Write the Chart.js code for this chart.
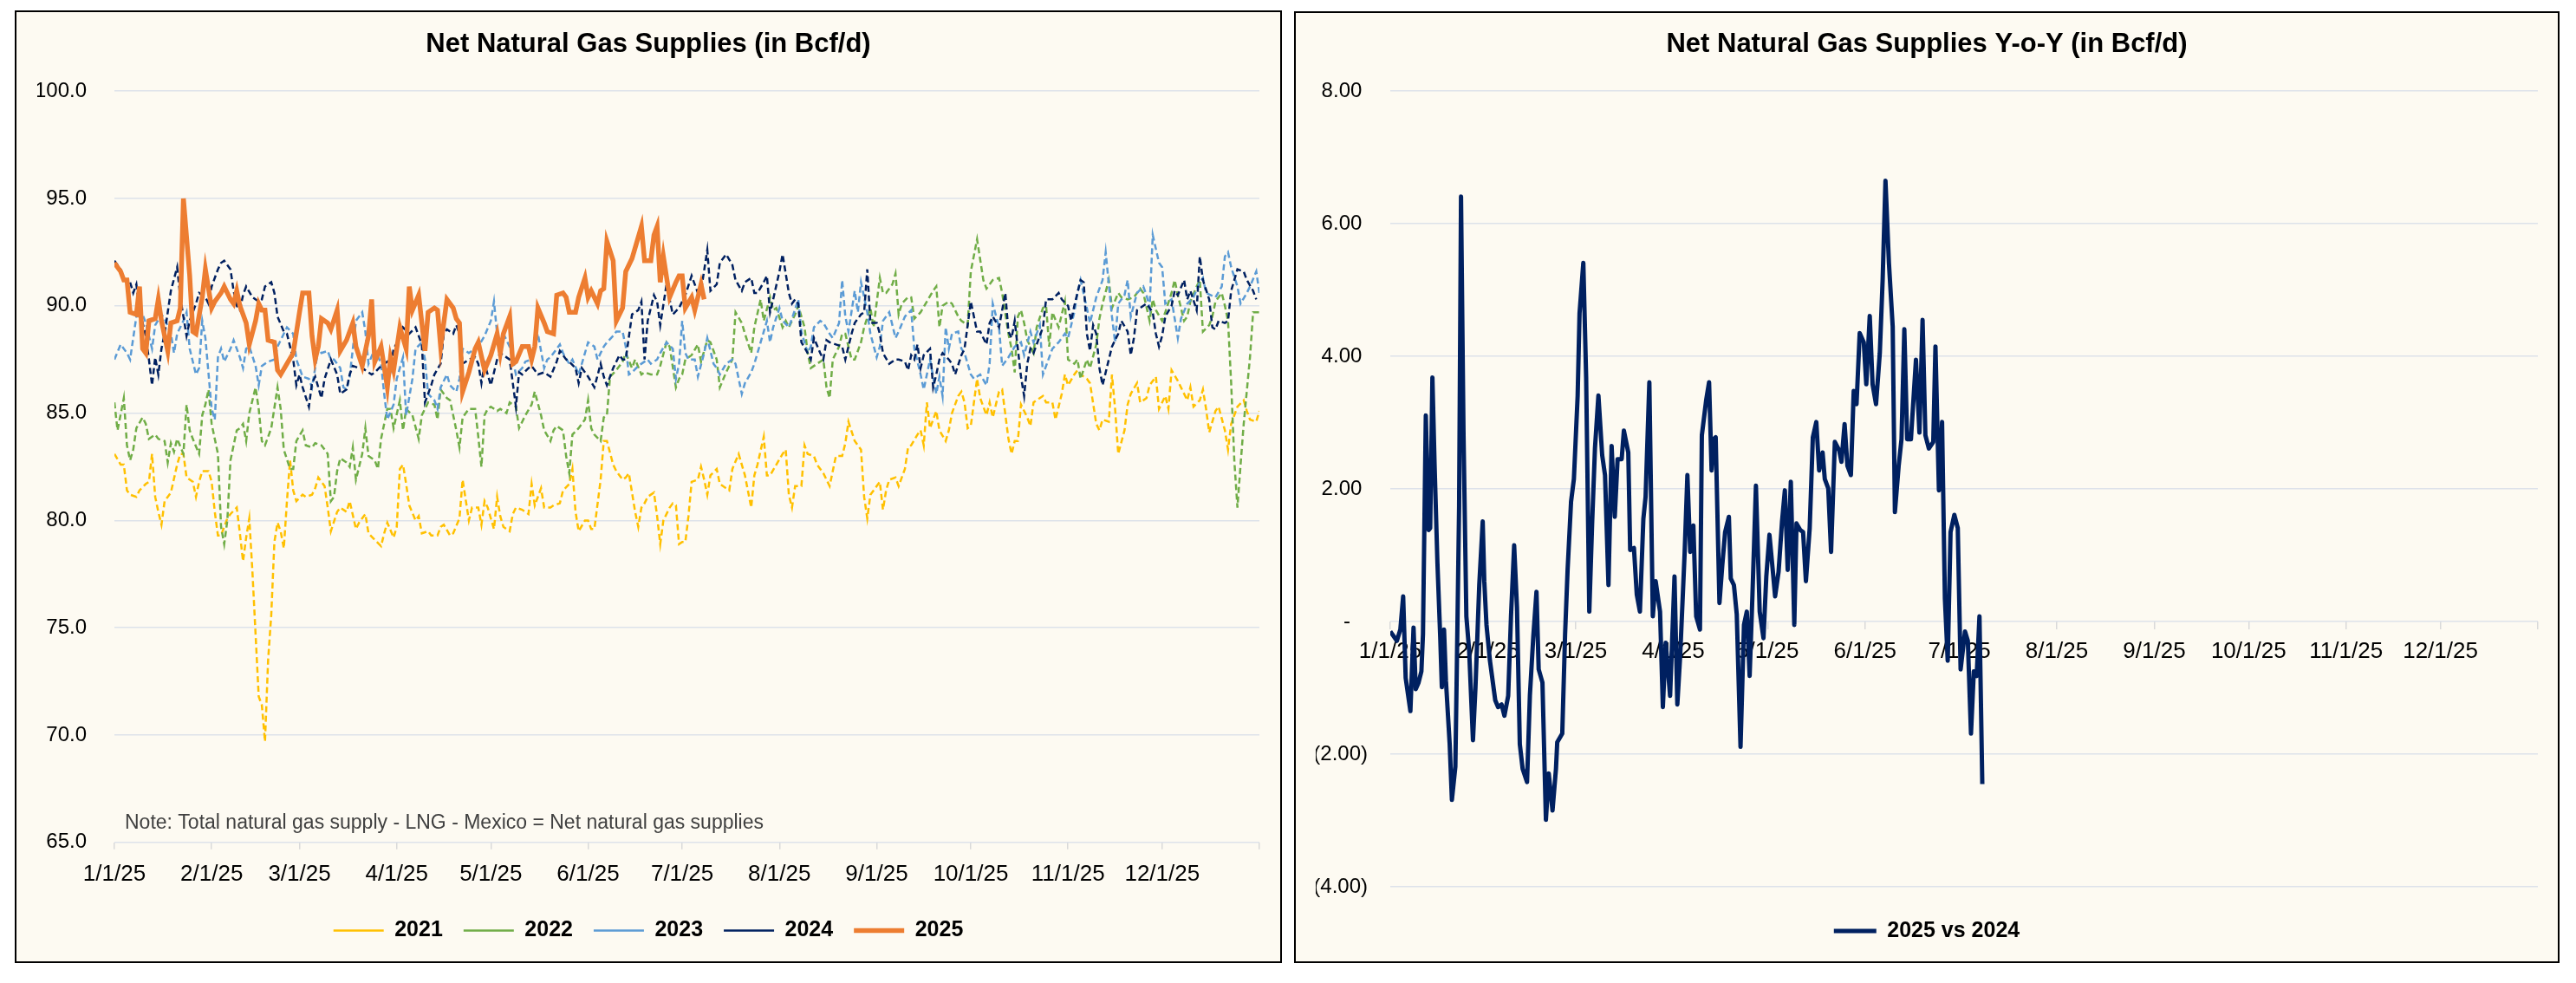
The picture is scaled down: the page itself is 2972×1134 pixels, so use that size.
<!DOCTYPE html>
<html lang="en">
<head>
  <meta charset="UTF-8">
  <title>Net Natural Gas Supplies</title>
  <script src="https://cdn.jsdelivr.net/npm/chart.js"></script>
  <style>
    html, body { margin: 0; padding: 0; background: #fff; }
    body { width: 2972px; height: 1134px; position: relative; overflow: hidden; }
    .box { position: absolute; box-sizing: border-box; border: 2px solid #000; background: #fdfaf2; }
    .box canvas { display: block; }
  </style>
</head>
<body>
  <div class="box" style="left:17px; top:12px; width:1462px; height:1099px;">
    <canvas id="supplyChart"></canvas>
  </div>
  <div class="box" style="left:1493px; top:13px; width:1460px; height:1098px;">
    <canvas id="yoyChart"></canvas>
  </div>

  <script>
    // x axis: days since 1/1/25, labelled at the first of each month
    const monthLabels = ['1/1/25', '2/1/25', '3/1/25', '4/1/25', '5/1/25', '6/1/25', '7/1/25', '8/1/25', '9/1/25', '10/1/25', '11/1/25', '12/1/25'];
    const monthDays = [0, 31, 59, 90, 120, 151, 181, 212, 243, 273, 304, 334, 365];

    const supplyTicks = [65, 70, 75, 80, 85, 90, 95, 100];
    const yoyTicks = [-4, -2, 0, 2, 4, 6, 8];
    const yoyTickText = ['(4.00)', '(2.00)', '-   ', '2.00 ', '4.00 ', '6.00 ', '8.00 '];

    const seriesNames = ['2021', '2022', '2023', '2024', '2025'];
    const yoyName = '2025 vs 2024';
    const note = 'Note: Total natural gas supply - LNG - Mexico = Net natural gas supplies';

    // net supplies by day of year (Bcf/d)
    const days2021 = [0,2,3,4,5,7,8,10,11,12,13,14,15,16,17,18,20,21,22,23,25,26,27,28,30,31,32,33,34,36,37,39,40,41,42,43,44,45,46,47,48,49,50,51,52,53,54,55,56,57,58,60,61,63,64,65,67,68,69,71,72,74,75,77,78,80,81,83,85,86,87,89,90,91,92,
      93,94,96,97,98,100,101,103,104,105,107,108,110,111,113,114,116,117,118,119,121,122,123,124,126,127,128,130,132,133,134,136,137,139,140,142,143,145,146,147,148,150,151,152,153,155,156,157,159,160,162,163,164,166,167,168,169,170,172,173,174,175,177,178,179,180,181,
      182,183,184,186,187,188,189,190,192,193,194,196,197,199,201,203,204,205,207,208,209,211,213,214,215,216,217,219,220,221,223,224,226,227,228,230,232,233,234,236,238,239,240,241,243,244,245,246,247,249,250,252,253,254,256,257,258,259,260,262,263,265,266,267,269,270,271,272,
      273,275,276,278,279,280,282,283,285,286,287,288,289,291,292,293,295,296,297,299,300,302,303,304,306,307,308,310,311,313,314,315,317,318,319,320,322,323,324,326,327,329,330,332,333,335,336,337,339,340,342,343,344,346,347,348,349,351,352,354,355,356,358,360,361,362,364,365];
    const vals2021 = [83.1,82.6,82.6,81.4,81.2,81.1,81.4,81.7,81.8,83.1,81.1,80.4,79.8,80.9,81.1,81.3,82.6,83.1,83.1,82.0,81.8,81.1,81.8,82.3,82.3,81.8,80.4,79.3,79.3,80.1,80.3,80.6,79.4,78.1,79.2,80.1,77.6,74.7,71.8,71.4,69.7,73.5,75.6,79.0,79.9,79.5,78.7,80.9,82.8,81.4,80.9,81.2,81.1,81.2,81.5,82.0,81.6,80.6,79.5,80.4,80.6,80.4,80.9,79.6,79.9,80.3,79.4,79.1,78.8,79.4,79.9,79.2,79.7,82.4,82.6,
      81.7,80.7,80.0,80.2,79.4,79.5,79.3,79.3,79.7,79.8,79.3,79.4,80.1,81.9,80.0,80.6,80.6,79.8,80.9,80.6,79.6,81.1,80.2,79.7,79.5,80.3,80.6,80.5,80.3,81.7,80.7,81.5,80.6,80.6,80.7,80.8,81.4,81.7,82.4,80.4,79.5,80.0,80.0,79.6,79.6,81.9,83.7,83.7,82.6,82.3,81.9,82.0,82.2,80.4,79.7,80.6,80.8,81.1,81.3,80.2,78.9,80.0,80.6,80.8,80.7,78.9,79.0,
      79.0,80.2,81.8,81.9,82.5,81.9,81.2,82.1,82.4,81.7,81.6,81.4,82.4,83.1,82.1,80.6,82.1,82.6,83.9,82.1,82.1,82.6,83.1,83.3,81.2,80.6,81.6,81.6,83.5,83.1,83.0,82.6,82.2,81.9,81.6,83.0,83.0,83.6,84.6,83.7,83.3,81.1,80.1,81.2,81.6,81.8,80.5,81.4,81.9,82.0,81.6,82.4,83.4,83.5,84.0,84.2,83.5,85.5,84.3,85.1,84.2,83.7,84.2,85.0,85.8,86.0,85.5,84.3,
      84.4,86.6,85.7,84.9,85.5,84.8,86.0,86.1,83.8,83.1,83.7,83.7,85.4,84.8,84.4,85.5,85.7,85.8,85.5,85.5,84.7,85.9,86.8,86.3,86.8,87.0,86.8,86.6,86.4,84.5,84.2,84.7,84.6,86.8,85.2,83.1,84.2,85.4,85.9,86.4,85.5,85.7,86.3,86.7,85.2,85.8,85.2,87.0,86.5,86.2,85.6,86.2,85.3,85.6,86.1,85.2,84.1,85.1,85.3,84.2,83.3,84.5,85.3,85.6,85.1,84.7,84.6,85.1];

    const days2022 = [0,1,3,4,5,6,7,9,10,11,13,14,16,17,18,19,20,22,23,24,25,27,28,29,30,31,33,34,35,36,37,39,40,41,42,43,45,46,47,48,50,52,53,54,56,57,58,60,61,63,64,66,68,69,70,71,72,74,75,76,77,79,80,81,83,84,85,87,88,89,91,92,
      93,95,97,98,100,102,103,104,106,107,109,110,111,113,115,116,117,118,119,120,122,123,125,126,128,129,131,133,134,136,137,139,140,141,143,144,145,146,148,150,151,152,153,155,156,157,158,160,162,163,165,166,168,169,171,173,174,176,177,179,180,181,
      182,184,186,187,189,190,192,193,195,197,198,200,201,203,204,206,207,209,210,211,213,214,215,217,218,220,221,222,224,226,227,228,229,231,232,233,235,236,238,239,241,242,244,245,246,248,249,250,251,253,254,255,257,259,261,262,263,264,266,267,269,270,272,
      273,275,277,278,280,282,283,285,286,287,288,289,290,291,293,294,296,297,298,299,301,303,304,306,307,308,310,311,313,314,315,317,318,320,321,323,325,327,328,330,331,332,334,335,337,338,339,341,342,343,345,346,347,349,350,351,353,354,355,356,357,358,359,360,362,363,365];
    const vals2022 = [85.5,84.2,85.7,83.5,82.8,83.3,84.3,84.8,84.5,83.8,84.0,83.8,83.7,82.7,83.6,83.2,83.8,83.1,85.4,84.2,83.8,83.1,84.9,85.4,86.1,84.5,83.1,79.7,78.9,80.0,82.8,84.2,84.3,84.5,83.7,85.0,86.2,85.2,83.7,83.5,84.3,86.2,85.2,83.3,82.4,82.4,83.7,84.2,83.5,83.4,83.6,83.5,83.1,80.9,81.1,82.3,82.9,82.7,82.5,83.4,81.9,83.1,84.3,83.0,82.8,82.4,83.8,85.2,85.2,84.3,85.6,84.2,
      85.2,84.9,83.8,84.9,85.5,85.4,84.7,86.1,85.7,85.6,84.2,83.4,84.8,85.2,85.2,83.9,82.5,84.9,85.2,85.3,85.1,85.2,85.0,85.5,85.3,84.3,84.9,85.4,86.0,84.9,84.2,83.7,84.2,84.4,84.2,83.0,82.2,84.0,84.3,84.7,85.6,84.3,84.0,83.7,84.8,84.9,86.7,87.0,87.4,87.8,87.1,87.5,86.8,86.9,86.8,86.8,87.2,88.3,88.1,86.2,86.6,86.8,
      87.5,87.7,88.2,87.4,88.4,88.3,87.5,86.2,86.9,87.5,89.7,89.2,88.7,87.8,89.0,90.3,89.3,90.4,89.8,89.9,89.0,89.3,89.0,89.6,90.0,89.0,87.8,87.1,87.3,87.5,86.2,85.7,87.5,88.1,88.7,88.7,87.5,87.5,88.3,89.0,89.9,89.0,91.3,90.6,90.6,91.0,91.5,89.6,90.1,90.4,90.4,89.4,89.7,90.2,90.7,90.9,89.0,90.0,90.2,90.1,89.5,89.3,89.1,
      91.6,93.1,91.2,90.8,91.2,91.3,90.6,88.7,88.0,86.9,89.5,89.8,89.2,88.4,87.8,89.0,89.9,90.0,88.1,89.7,89.0,90.2,87.5,87.3,87.5,86.6,87.5,87.1,88.2,89.4,90.1,91.2,89.9,90.6,90.4,90.3,90.4,90.8,90.6,89.3,90.3,89.8,89.3,89.7,90.6,91.2,90.5,89.3,89.5,90.2,90.9,91.2,88.8,89.1,89.5,90.2,90.6,90.0,89.3,86.4,82.8,80.6,82.6,84.5,87.6,89.7,89.7];

    const days2023 = [0,2,4,5,6,7,9,10,12,13,15,16,18,19,20,22,23,24,26,27,28,29,31,32,33,34,35,37,38,40,41,42,43,45,46,47,49,51,52,54,55,57,58,60,62,63,65,66,68,69,70,72,73,74,75,77,79,80,81,83,85,86,87,89,90,92,
      93,95,96,98,99,100,102,103,104,106,107,109,110,111,113,115,116,118,120,121,122,123,124,126,127,128,130,131,133,134,135,137,138,139,140,142,143,145,146,148,150,151,153,154,156,157,159,160,162,163,164,165,167,168,170,171,173,174,176,178,179,180,181,
      182,183,185,186,188,189,191,192,193,195,197,198,200,201,203,204,206,208,209,210,212,213,215,216,218,219,221,222,223,225,226,228,229,231,232,233,234,236,237,238,240,241,243,244,245,247,249,250,252,254,255,257,258,259,260,261,262,263,264,265,266,267,269,270,271,
      273,274,276,278,279,280,282,283,285,287,289,290,292,293,295,296,298,299,301,303,304,306,307,308,310,311,313,315,316,318,319,320,322,323,324,326,328,329,330,331,333,334,335,337,339,340,342,344,346,347,348,351,353,354,355,356,358,359,361,362,364,365];
    const vals2023 = [87.5,88.2,87.8,87.5,88.5,89.5,89.6,89.2,88.0,89.1,89.6,89.4,88.7,87.8,88.7,89.3,89.7,88.0,86.8,87.1,89.3,88.5,85.2,84.7,87.6,88.0,87.4,88.0,88.4,87.6,87.1,88.0,88.1,87.2,86.3,87.2,87.4,87.5,88.1,88.7,89.0,88.7,87.5,86.7,86.6,86.2,88.0,87.8,87.9,87.5,87.5,87.1,86.2,86.1,86.7,89.3,89.7,88.8,87.3,88.0,87.3,85.9,84.7,85.4,86.6,87.6,
      84.9,86.6,88.0,88.3,87.5,85.9,85.6,85.2,86.2,86.8,86.3,86.0,86.6,88.0,87.8,88.0,88.1,88.6,89.3,90.2,88.7,87.8,88.7,88.1,87.5,86.8,87.1,87.4,87.5,88.0,88.7,87.1,87.5,87.6,87.8,88.2,87.8,87.3,87.5,86.8,87.8,88.3,88.1,87.5,88.1,88.3,88.6,88.8,88.8,88.1,86.8,86.9,87.2,87.3,87.5,87.3,87.5,87.8,88.3,88.0,86.6,87.3,89.3,
      87.8,87.5,87.5,86.7,87.8,88.5,87.3,87.1,86.8,87.3,87.5,87.3,85.9,86.4,86.9,87.3,88.3,89.3,88.3,89.0,89.9,89.3,89.0,89.4,90.3,88.8,87.8,88.1,89.0,89.3,89.2,88.7,88.5,89.2,91.2,89.5,88.8,90.7,89.7,91.1,89.7,88.7,87.6,88.1,89.3,89.7,88.5,88.8,89.5,89.8,88.0,86.8,86.1,86.8,87.5,86.7,85.9,86.7,85.8,89.0,88.0,88.7,88.8,88.0,87.8,
      86.8,86.6,86.8,86.3,87.3,90.1,89.0,87.2,87.6,88.1,88.3,87.7,88.8,88.3,89.1,86.8,87.6,88.0,88.3,88.7,88.5,89.7,90.6,91.2,89.9,89.2,90.4,91.2,92.5,89.5,88.3,90.1,90.5,91.2,89.5,90.6,90.9,90.5,89.9,93.3,92.0,91.8,90.1,90.3,88.5,89.4,90.1,90.4,91.1,91.3,90.6,90.4,90.9,92.3,92.5,91.8,90.9,90.1,90.6,90.9,91.6,90.6];

    const days2024 = [0,2,3,5,6,7,8,10,11,12,13,14,15,16,17,18,20,21,22,23,24,25,26,27,29,30,31,33,34,35,37,38,39,40,41,42,44,46,47,48,50,51,52,54,55,57,58,59,60,62,63,64,66,67,69,71,72,74,75,76,78,79,81,82,83,85,87,88,89,91,92,
      94,96,98,99,101,102,104,105,106,108,109,110,111,113,115,116,117,118,120,122,123,124,126,128,129,130,132,133,135,137,139,141,142,144,145,147,148,149,151,153,155,156,157,159,161,162,163,165,167,168,169,170,172,173,174,176,178,180,
      182,184,186,187,189,190,192,193,195,197,198,200,201,203,204,205,207,208,209,210,212,213,215,216,217,218,219,221,222,223,225,226,227,228,230,232,233,235,236,238,239,240,241,243,244,245,247,249,250,252,253,254,255,256,257,258,260,261,262,263,264,266,267,268,270,271,
      273,275,276,278,279,280,282,284,285,286,287,289,290,291,292,293,295,296,297,299,301,302,304,305,306,308,309,310,311,312,313,314,315,317,318,320,321,323,324,325,326,328,329,331,332,333,334,335,337,338,339,341,342,343,345,346,347,349,350,351,352,354,355,356,358,360,361,363,364];
    const vals2024 = [92.1,91.7,91.2,91.1,90.6,91.0,89.8,88.6,87.5,86.3,87.6,86.8,88.0,88.7,89.7,90.7,91.8,90.4,89.5,88.6,89.3,89.7,90.1,90.6,90.4,90.1,90.9,91.7,92.0,92.1,91.7,90.7,90.0,89.8,90.5,90.9,90.4,90.2,90.3,90.9,91.1,90.6,89.5,88.8,88.7,87.5,86.3,86.8,86.2,85.3,86.4,86.7,85.7,86.6,87.5,86.8,85.9,86.1,86.8,87.2,87.1,87.1,86.9,86.8,86.9,87.2,87.4,87.0,88.0,88.5,89.0,
      88.7,89.0,88.2,85.5,86.3,86.8,87.3,88.7,88.9,88.7,89.1,88.7,87.3,87.5,87.6,87.3,86.4,87.3,86.3,87.5,87.8,87.7,87.5,85.3,86.9,86.8,87.1,87.2,86.8,86.9,86.7,87.4,87.9,87.5,87.4,87.1,86.4,87.1,86.7,86.2,87.3,86.7,86.3,87.1,87.7,87.5,87.5,89.6,89.8,90.2,87.5,89.3,90.5,90.2,89.1,91.0,89.6,89.9,
      90.5,91.4,90.6,90.7,92.6,90.7,91.0,92.0,92.4,91.9,91.2,90.7,91.1,91.3,90.6,90.6,91.1,91.4,89.7,90.3,91.6,92.4,90.6,90.1,90.3,90.1,88.3,87.8,87.5,88.5,87.8,87.5,88.4,88.3,88.2,88.1,87.5,88.7,89.2,89.6,89.7,91.7,89.2,89.2,88.7,87.8,87.3,87.5,87.5,87.4,87.0,87.7,87.5,88.2,87.1,87.7,88.0,86.2,86.8,87.5,87.8,87.5,87.3,86.8,87.7,88.0,
      90.2,88.8,88.8,88.2,89.2,89.5,89.0,90.6,88.8,88.5,89.3,86.7,85.8,87.3,88.0,87.8,88.6,89.0,90.3,90.3,90.6,90.3,90.0,89.3,90.0,91.2,91.1,88.7,87.9,89.1,88.7,87.1,86.3,87.5,88.1,88.7,89.3,88.8,87.7,88.5,89.8,90.0,90.1,89.7,88.7,88.1,88.6,89.5,90.0,90.7,90.5,91.2,90.3,90.7,89.8,92.3,91.2,90.3,89.0,88.9,89.3,89.2,89.3,90.7,91.7,91.6,91.2,90.7,90.3];

    const days2025 = [0,2,3,4,5,7,8,9,10,11,13,14,15,17,18,20,21,22,24,25,26,28,29,31,32,34,35,37,38,39,40,42,43,45,46,47,48,49,51,52,53,55,57,59,60,62,63,64,65,66,68,69,71,72,74,76,77,79,81,82,83,85,87,88,89,91,
      93,94,95,97,99,100,102,103,104,106,108,109,110,111,113,115,116,118,120,122,123,124,126,127,128,130,132,133,134,135,137,138,140,141,143,144,145,147,148,150,151,152,154,155,156,157,159,160,162,163,165,168,169,171,172,173,174,175,177,179,180,
      181,182,184,185,186,187,188];
    const vals2025 = [92.0,91.6,91.2,91.2,89.7,89.6,90.9,88.0,87.8,89.3,89.4,90.3,89.3,87.9,89.2,89.3,89.9,95.0,91.4,88.8,88.7,90.4,91.7,89.9,90.2,90.6,90.9,90.3,90.1,90.7,90.0,89.2,88.2,89.3,90.1,89.8,89.8,88.4,88.3,87.0,86.8,87.3,87.8,89.7,90.6,90.6,88.6,87.5,88.1,89.4,89.2,88.9,89.8,87.9,88.4,89.2,88.1,87.2,88.6,90.3,87.4,88.1,86.2,87.6,87.0,89.0,
      88.0,90.9,89.8,90.5,87.9,89.7,89.9,89.8,88.1,90.3,89.9,89.4,89.2,86.0,86.9,88.0,88.3,87.0,87.7,88.7,87.8,88.7,89.5,87.3,87.4,88.1,88.1,87.5,88.1,89.9,89.2,88.8,88.7,90.5,90.6,90.4,89.7,89.7,90.4,91.3,90.4,90.7,90.1,90.7,90.8,93.0,92.1,89.3,89.9,91.6,92.2,93.7,92.1,92.1,93.3,93.7,91.1,92.3,90.4,91.1,91.4,
      91.4,89.9,90.4,89.8,90.4,91.0,90.3];

    // 2025 vs 2024 difference (Bcf/d)
    const yoyDays = [0,2.1,3.2,4.1,4.9,6.4,7.4,8.1,9.0,9.9,10.4,11.3,12.2,12.7,13.4,14.1,15.0,15.9,16.4,17.1,17.7,18.9,19.6,20.7,21.2,21.9,22.5,23.3,24.2,25.1,26.3,27.1,28.3,29.4,29.9,30.6,31.7,33.4,34.3,35.4,36.3,37.5,38.4,39.4,40.3,41.2,42.1,43.5,44.4,45.5,46.5,47.2,48.4,49.5,50.4,51.6,52.7,53.1,54.7,55.6,56.4,57.5,58.4,59.6,60.2,61.4,62.3,63.3,64.2,65.1,66.2,67.4,68.3,69.4,70.4,71.4,72.3,73.6,74.3,75.7,76.3,77.5,78.4,79.4,80.5,81.2,82.4,83.5,84.4,85.8,86.7,87.6,89.0,90.4,91.3,92.2,93.6,94.5,95.4,96.4,97.3,98.5,99.1,100.5,101.4,
      102.2,102.8,103.5,104.7,105.6,106.5,107.7,108.3,109.3,110.2,111.4,112.5,113.4,114.3,115.2,116.3,117.5,118.7,119.6,120.6,121.7,122.4,123.5,124.6,125.5,126.4,127.4,128.5,129.2,130.4,131.3,132.2,133.4,134.4,135.5,136.4,137.5,138.2,139.3,140.2,141.4,142.8,143.5,144.5,145.4,146.5,147.4,148.3,149.3,150.6,151.4,152.5,153.4,154.5,155.7,156.6,157.5,158.6,159.8,160.5,161.7,162.6,163.5,164.4,165.6,167.2,168.3,169.3,170.2,171.3,172.7,173.4,174.5,175.5,176.4,177.3,178.2,179.4,180.5,181.4,182.8,183.7,184.7,185.6,186.5,187.4,188.3];
    const yoyVals = [-0.15,-0.29,-0.12,0.38,-0.85,-1.35,-0.09,-1.02,-0.92,-0.75,-0.19,3.11,1.38,1.41,3.68,2.35,0.88,-0.25,-0.99,-0.12,-0.89,-1.85,-2.69,-2.19,-0.59,1.75,6.41,2.81,0.08,-0.45,-1.79,-0.99,0.55,1.51,0.61,-0.05,-0.59,-1.19,-1.29,-1.25,-1.42,-1.12,0.08,1.15,0.21,-1.85,-2.22,-2.42,-1.12,-0.22,0.45,-0.72,-0.92,-2.99,-2.29,-2.85,-2.22,-1.82,-1.69,-0.19,0.78,1.81,2.15,3.41,4.65,5.41,3.68,0.15,1.48,2.61,3.41,2.51,2.21,0.55,2.65,1.58,2.45,2.45,2.88,2.55,1.08,1.11,0.41,0.15,1.55,1.88,3.61,0.08,0.61,0.15,-1.29,-0.32,-1.12,0.68,-1.25,-0.52,1.01,2.21,1.05,1.45,0.08,-0.12,2.81,3.35,3.61,
      2.28,2.75,2.78,0.28,0.85,1.35,1.58,0.65,0.55,0.11,-1.89,-0.05,0.15,-0.82,0.41,2.05,0.15,-0.25,0.68,1.31,0.75,0.38,0.75,1.51,1.98,0.78,2.11,-0.05,1.48,1.38,1.35,0.61,1.41,2.78,3.01,2.28,2.55,2.15,2.01,1.05,2.71,2.58,2.41,2.98,2.35,2.21,3.48,3.28,4.35,4.21,3.58,4.61,3.58,3.28,4.05,5.15,6.65,5.41,4.45,1.65,2.35,2.75,4.41,2.75,2.75,3.95,2.85,4.55,2.81,2.61,2.71,4.15,1.98,3.01,0.35,-0.59,1.35,1.61,1.41,-0.72,-0.15,-0.29,-1.69,-0.75,-0.82,0.08,-2.45];

    Chart.defaults.font.family = '"Liberation Sans", Arial, sans-serif';
    Chart.defaults.color = '#000';
    Chart.defaults.animation = false;

    function pts(days, vals) {
      return days.map((d, i) => ({ x: d, y: vals[i] }));
    }

    function monthAxis(tickLen, pad) {
      return {
        type: 'linear',
        min: 0,
        max: 365,
        afterBuildTicks: (s) => { s.ticks = monthDays.map(v => ({ value: v })); },
        ticks: {
          autoSkip: false,
          maxRotation: 0,
          padding: pad,
          font: { size: 26 },
          color: '#000',
          callback: (v) => monthLabels[monthDays.indexOf(v)] || ''
        },
        grid: { drawOnChartArea: false, drawTicks: true, tickLength: tickLen, color: '#d9d9d9', lineWidth: 1.5 },
        border: { display: false }
      };
    }

    const legendLabels = (w, pad) => ({
      usePointStyle: true,
      pointStyle: 'line',
      pointStyleWidth: w,
      padding: pad,
      color: '#000',
      font: { size: 25, weight: 'bold' },
      sort: (a, b) => a.datasetIndex - b.datasetIndex
    });

    // note text sits inside the plot, just above the x axis
    const notePlugin = {
      id: 'note',
      afterDraw(chart) {
        const { ctx, chartArea } = chart;
        ctx.save();
        ctx.font = '23px "Liberation Sans", Arial, sans-serif';
        ctx.fillStyle = '#404040';
        ctx.textAlign = 'left';
        ctx.textBaseline = 'middle';
        ctx.fillText(note, chartArea.left + 12, chartArea.bottom - 22);
        ctx.restore();
      }
    };

    const colors = ['#FFC000', '#70AD47', '#5B9BD5', '#002060', '#ED7D31'];
    const allDays = [days2021, days2022, days2023, days2024, days2025];
    const allVals = [vals2021, vals2022, vals2023, vals2024, vals2025];

    const supplySets = seriesNames.map((name, i) => ({
      label: name,
      data: pts(allDays[i], allVals[i]),
      borderColor: colors[i],
      backgroundColor: colors[i],
      borderWidth: i === 4 ? 5.5 : 2.5,
      borderDash: i === 4 ? [] : [7, 4],
      pointRadius: 0,
      tension: 0,
      order: 5 - i
    }));

    new Chart(document.getElementById('supplyChart'), {
      type: 'line',
      data: { datasets: supplySets },
      plugins: [notePlugin],
      options: {
        responsive: true,
        maintainAspectRatio: false,
        layout: { padding: { left: 24, right: 24, top: 0, bottom: 13 } },
        scales: {
          x: monthAxis(8, 13),
          y: {
            min: 65,
            max: 100,
            afterBuildTicks: (s) => { s.ticks = supplyTicks.map(v => ({ value: v })); },
            afterFit: (s) => { s.width = 89; },
            ticks: { padding: 32, font: { size: 24 }, color: '#000', callback: (v) => v.toFixed(1) },
            grid: { color: '#dde2ea', lineWidth: 1.5, drawTicks: false },
            border: { display: false }
          }
        },
        plugins: {
          title: {
            display: true,
            text: 'Net Natural Gas Supplies (in Bcf/d)',
            color: '#000',
            font: { size: 31, weight: 'bold' },
            padding: { top: 19, bottom: 35 }
          },
          legend: { position: 'bottom', labels: legendLabels(58, 24) },
          tooltip: { enabled: false }
        }
      }
    });

    new Chart(document.getElementById('yoyChart'), {
      type: 'line',
      data: {
        datasets: [{
          label: yoyName,
          data: pts(yoyDays, yoyVals),
          borderColor: '#002060',
          backgroundColor: '#002060',
          borderWidth: 5,
          pointRadius: 0,
          tension: 0,
          borderJoinStyle: 'round'
        }]
      },
      options: {
        responsive: true,
        maintainAspectRatio: false,
        layout: { padding: { left: 23, right: 23, top: 0, bottom: 12.5 } },
        scales: {
          x: Object.assign(monthAxis(9, 10), { position: { y: 0 } }),
          y: {
            min: -4,
            max: 8,
            afterBuildTicks: (s) => { s.ticks = yoyTicks.map(v => ({ value: v })); },
            afterFit: (s) => { s.width = 86; },
            ticks: { padding: 26, font: { size: 24 }, color: '#000', callback: (v) => yoyTickText[yoyTicks.indexOf(v)] },
            grid: { color: '#dde2ea', lineWidth: 1.5, drawTicks: false },
            border: { display: false }
          }
        },
        plugins: {
          title: {
            display: true,
            text: 'Net Natural Gas Supplies Y-o-Y (in Bcf/d)',
            color: '#000',
            font: { size: 31, weight: 'bold' },
            padding: { top: 18, bottom: 35 }
          },
          legend: { position: 'bottom', labels: legendLabels(49, 38.5) },
          tooltip: { enabled: false }
        }
      }
    });
  </script>
</body>
</html>
